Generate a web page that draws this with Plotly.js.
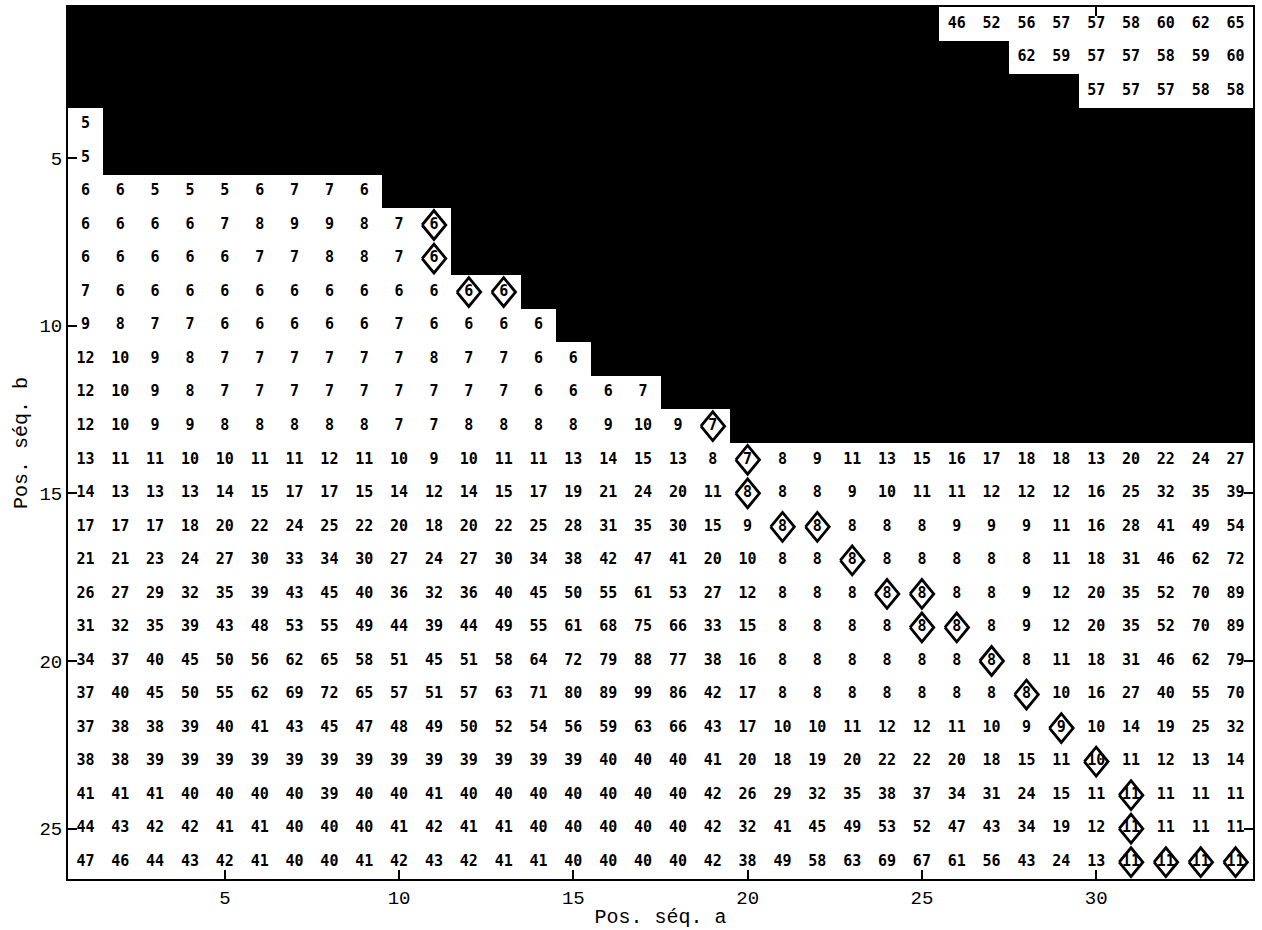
<!DOCTYPE html>
<html>
<head>
<meta charset="utf-8">
<script src="https://cdn.plot.ly/plotly-3.0.1.min.js"></script>
<style>html,body{margin:0;padding:0;background:#fff;}</style>
</head>
<body>
<div id="chart" style="width:1262px;height:930px;"></div>
<script>
// Column index (Pos. séq. a) and row index (Pos. séq. b)
const nCols = 34;
const nRows = 26;

// First column that holds a value in each row (rows 1..26)
const rowStart = [26, 28, 30, 1, 1, 1, 1, 1, 1, 1, 1, 1, 1, 1, 1, 1, 1, 1, 1, 1, 1, 1, 1, 1, 1, 1];

// Values of each row, starting at rowStart
const row01 = [46, 52, 56, 57, 57, 58, 60, 62, 65];
const row02 = [62, 59, 57, 57, 58, 59, 60];
const row03 = [57, 57, 57, 58, 58];
const row04 = [5];
const row05 = [5];
const row06 = [6, 6, 5, 5, 5, 6, 7, 7, 6];
const row07 = [6, 6, 6, 6, 7, 8, 9, 9, 8, 7, 6];
const row08 = [6, 6, 6, 6, 6, 7, 7, 8, 8, 7, 6];
const row09 = [7, 6, 6, 6, 6, 6, 6, 6, 6, 6, 6, 6, 6];
const row10 = [9, 8, 7, 7, 6, 6, 6, 6, 6, 7, 6, 6, 6, 6];
const row11 = [12, 10, 9, 8, 7, 7, 7, 7, 7, 7, 8, 7, 7, 6, 6];
const row12 = [12, 10, 9, 8, 7, 7, 7, 7, 7, 7, 7, 7, 7, 6, 6, 6, 7];
const row13 = [12, 10, 9, 9, 8, 8, 8, 8, 8, 7, 7, 8, 8, 8, 8, 9, 10, 9, 7];
const row14 = [13, 11, 11, 10, 10, 11, 11, 12, 11, 10, 9, 10, 11, 11, 13, 14, 15, 13, 8, 7, 8, 9, 11, 13, 15, 16, 17, 18, 18, 13, 20, 22, 24, 27];
const row15 = [14, 13, 13, 13, 14, 15, 17, 17, 15, 14, 12, 14, 15, 17, 19, 21, 24, 20, 11, 8, 8, 8, 9, 10, 11, 11, 12, 12, 12, 16, 25, 32, 35, 39];
const row16 = [17, 17, 17, 18, 20, 22, 24, 25, 22, 20, 18, 20, 22, 25, 28, 31, 35, 30, 15, 9, 8, 8, 8, 8, 8, 9, 9, 9, 11, 16, 28, 41, 49, 54];
const row17 = [21, 21, 23, 24, 27, 30, 33, 34, 30, 27, 24, 27, 30, 34, 38, 42, 47, 41, 20, 10, 8, 8, 8, 8, 8, 8, 8, 8, 11, 18, 31, 46, 62, 72];
const row18 = [26, 27, 29, 32, 35, 39, 43, 45, 40, 36, 32, 36, 40, 45, 50, 55, 61, 53, 27, 12, 8, 8, 8, 8, 8, 8, 8, 9, 12, 20, 35, 52, 70, 89];
const row19 = [31, 32, 35, 39, 43, 48, 53, 55, 49, 44, 39, 44, 49, 55, 61, 68, 75, 66, 33, 15, 8, 8, 8, 8, 8, 8, 8, 9, 12, 20, 35, 52, 70, 89];
const row20 = [34, 37, 40, 45, 50, 56, 62, 65, 58, 51, 45, 51, 58, 64, 72, 79, 88, 77, 38, 16, 8, 8, 8, 8, 8, 8, 8, 8, 11, 18, 31, 46, 62, 79];
const row21 = [37, 40, 45, 50, 55, 62, 69, 72, 65, 57, 51, 57, 63, 71, 80, 89, 99, 86, 42, 17, 8, 8, 8, 8, 8, 8, 8, 8, 10, 16, 27, 40, 55, 70];
const row22 = [37, 38, 38, 39, 40, 41, 43, 45, 47, 48, 49, 50, 52, 54, 56, 59, 63, 66, 43, 17, 10, 10, 11, 12, 12, 11, 10, 9, 9, 10, 14, 19, 25, 32];
const row23 = [38, 38, 39, 39, 39, 39, 39, 39, 39, 39, 39, 39, 39, 39, 39, 40, 40, 40, 41, 20, 18, 19, 20, 22, 22, 20, 18, 15, 11, 10, 11, 12, 13, 14];
const row24 = [41, 41, 41, 40, 40, 40, 40, 39, 40, 40, 41, 40, 40, 40, 40, 40, 40, 40, 42, 26, 29, 32, 35, 38, 37, 34, 31, 24, 15, 11, 11, 11, 11, 11];
const row25 = [44, 43, 42, 42, 41, 41, 40, 40, 40, 41, 42, 41, 41, 40, 40, 40, 40, 40, 42, 32, 41, 45, 49, 53, 52, 47, 43, 34, 19, 12, 11, 11, 11, 11];
const row26 = [47, 46, 44, 43, 42, 41, 40, 40, 41, 42, 43, 42, 41, 41, 40, 40, 40, 40, 42, 38, 49, 58, 63, 69, 67, 61, 56, 43, 24, 13, 11, 11, 11, 11];

// Cells marked with a diamond (optimal path)
const diamondCol = [11, 11, 12, 13, 19, 20, 20, 21, 22, 23, 24, 25, 25, 26, 27, 28, 29, 30, 31, 31, 31, 32, 33, 34];
const diamondRow = [7, 8, 9, 9, 13, 14, 15, 16, 16, 17, 18, 18, 19, 19, 20, 21, 22, 23, 24, 25, 26, 26, 26, 26];

// Tick labels
const xTicks = [5, 10, 15, 20, 25, 30];
const yTicks = [5, 10, 15, 20, 25];

const rows = [row01, row02, row03, row04, row05, row06, row07, row08, row09, row10, row11, row12, row13,
              row14, row15, row16, row17, row18, row19, row20, row21, row22, row23, row24, row25, row26];

const xs = [], ys = [], txt = [];
const z = [];
for (let r = 0; r < nRows; r++) {
  const zr = new Array(nCols).fill(null);
  rows[r].forEach((v, i) => {
    const c = rowStart[r] + i;
    xs.push(c); ys.push(r + 1); txt.push(String(v));
    zr[c - 1] = 0;
  });
  z.push(zr);
}
const colIdx = Array.from({length: nCols}, (_, i) => i + 1);
const rowIdx = Array.from({length: nRows}, (_, i) => i + 1);

const dx = 0.34, dy = 0.43;
const dX = [], dY = [];
diamondCol.forEach((c, i) => {
  const r = diamondRow[i];
  dX.push(c - dx, c, c + dx, c, c - dx, null);
  dY.push(r, r - dy, r, r + dy, r, null);
});

const traces = [
  {
    type: 'heatmap', x: colIdx, y: rowIdx, z: z,
    colorscale: [[0, '#ffffff'], [1, '#ffffff']], showscale: false,
    hoverinfo: 'skip', xgap: 0, ygap: 0
  },
  {
    type: 'scatter', mode: 'lines', x: dX, y: dY,
    line: {color: '#000', width: 2.8}, hoverinfo: 'skip', showlegend: false
  },
  {
    type: 'scatter', mode: 'text', x: xs, y: ys, text: txt,
    textposition: 'middle center',
    textfont: {family: 'DejaVu Sans Mono', size: 15, color: '#000', weight: 'bold'},
    hoverinfo: 'skip', showlegend: false, cliponaxis: false
  }
];

const axisCommon = {
  showgrid: false, zeroline: false, showline: true, linecolor: '#000', linewidth: 2,
  mirror: 'ticks', ticks: 'inside', ticklen: 9, tickwidth: 2, tickcolor: '#000',
  tickfont: {family: 'Liberation Mono', size: 19, color: '#000'}
};

const layout = {
  width: 1262, height: 930,
  margin: {l: 68, r: 9, t: 7, b: 51},
  paper_bgcolor: '#fff', plot_bgcolor: '#000',
  showlegend: false,
  xaxis: Object.assign({}, axisCommon, {
    range: [0.5, 34.5], tickvals: xTicks, ticktext: xTicks.map(String),
    title: {text: 'Pos. séq. a', font: {family: 'Liberation Mono', size: 20, color: '#000'}, standoff: 0}
  }),
  yaxis: Object.assign({}, axisCommon, {
    range: [26.5, 0.5], tickvals: yTicks, ticktext: yTicks.map(String),
    title: {text: 'Pos. séq. b', font: {family: 'Liberation Mono', size: 20, color: '#000'}, standoff: 6}
  })
};

Plotly.newPlot('chart', traces, layout, {displayModeBar: false, staticPlot: true});
</script>
</body>
</html>
